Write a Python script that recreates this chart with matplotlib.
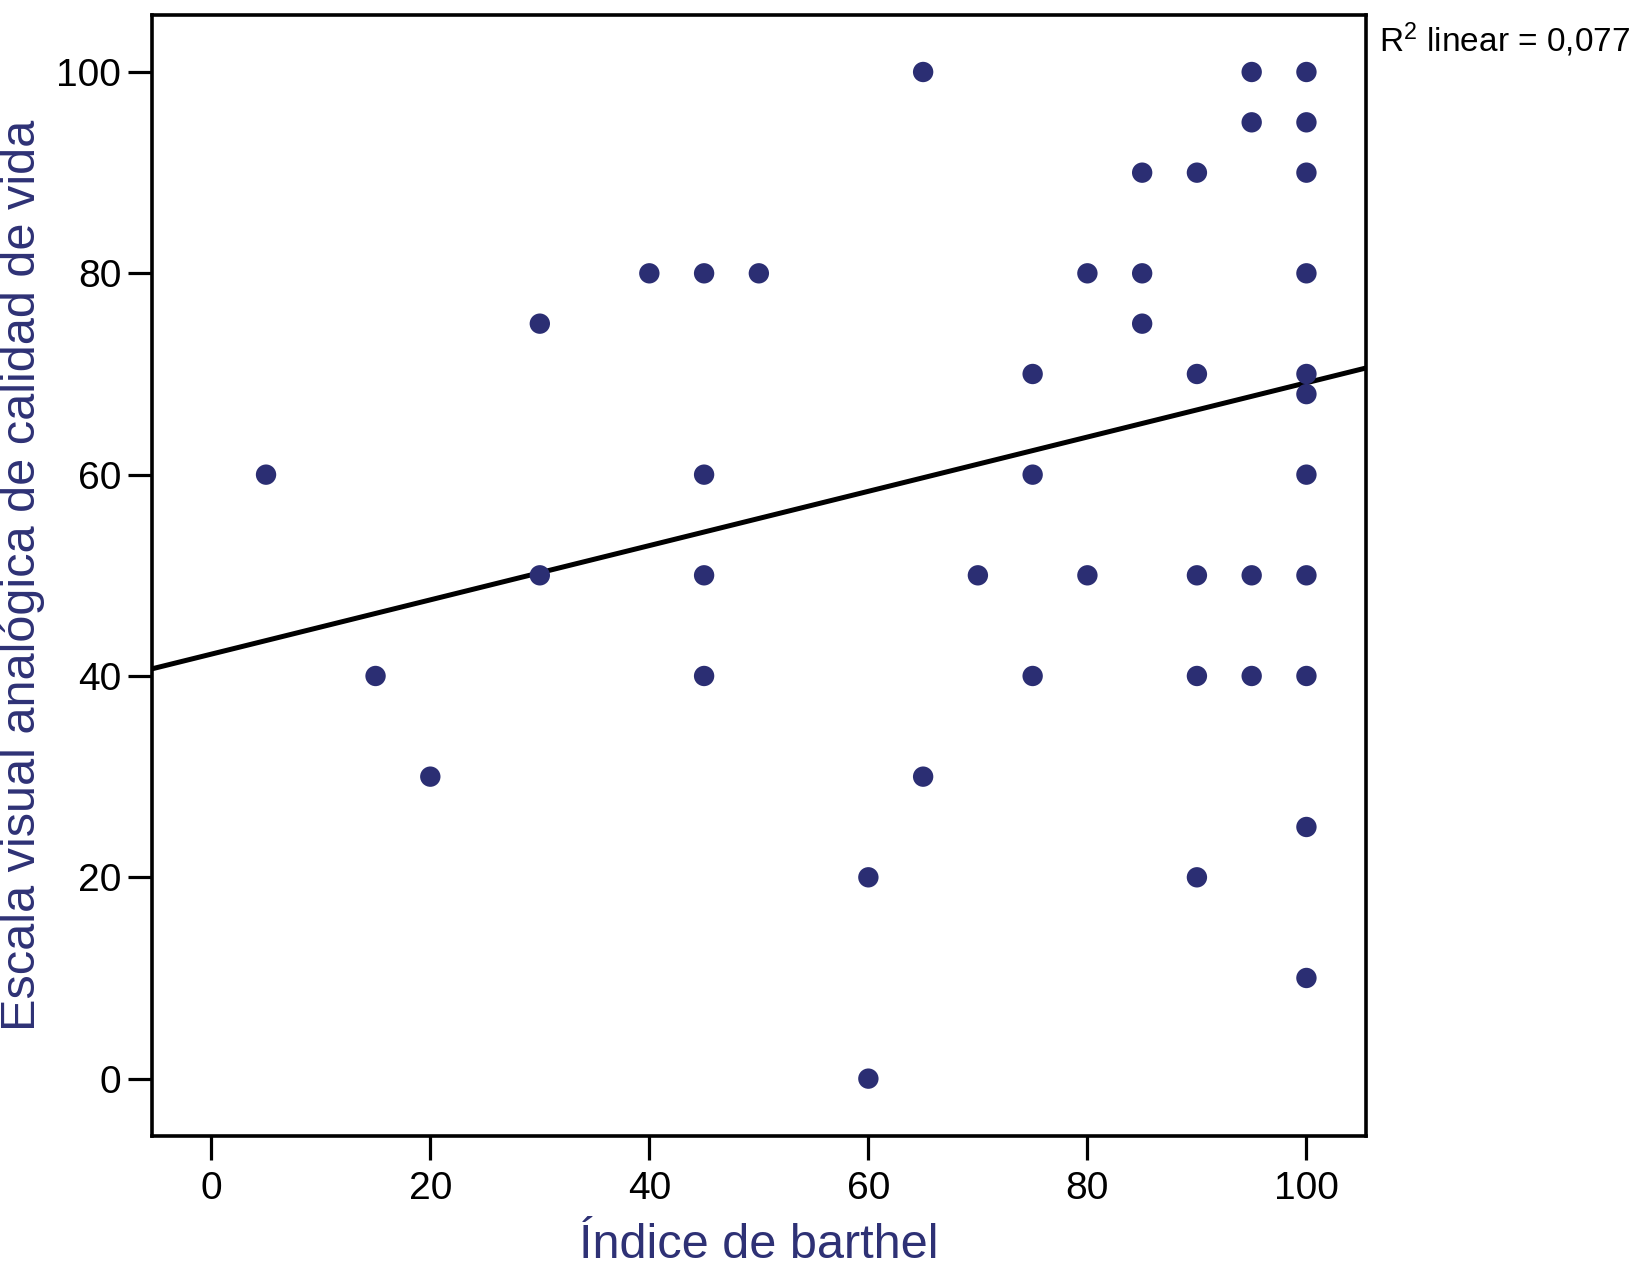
import matplotlib
matplotlib.use('Agg')
import matplotlib.pyplot as plt
import numpy as np

plt.rcParams['font.family'] = ['Liberation Sans', 'DejaVu Sans']
plt.rcParams['mathtext.fontset'] = 'custom'
plt.rcParams['mathtext.rm'] = 'Liberation Sans'
plt.rcParams['mathtext.it'] = 'Liberation Sans'

# Indice de Barthel vs escala visual analogica
barthel = [5, 15, 20, 30, 30, 40, 45, 45, 45, 45, 50, 60, 60, 65, 65, 70,
           75, 75, 75, 80, 80, 85, 85, 85, 90, 90, 90, 90, 90,
           95, 95, 95, 95, 100, 100, 100, 100, 100, 100, 100, 100, 100, 100, 100]
eva = [60, 40, 30, 75, 50, 80, 80, 60, 50, 40, 80, 20, 0, 100, 30, 50,
       70, 60, 40, 80, 50, 90, 80, 75, 90, 70, 50, 40, 20,
       100, 95, 50, 40, 100, 95, 90, 80, 70, 68, 60, 50, 40, 25, 10]

# linea de ajuste
fit_intercept = 42.17
fit_slope = 0.2696
r2_label = "R$^2$ linear = 0,077"

xticks = [0, 20, 40, 60, 80, 100]
yticks = [0, 20, 40, 60, 80, 100]

dot_color = '#2b2e73'
label_color = '#2e3175'

fig = plt.figure(figsize=(16.4, 12.71), dpi=100)
ax = fig.add_axes([0.0925, 0.1062, 0.7405, 0.8823])

ax.scatter(barthel, eva, s=215, color=dot_color, edgecolors='none', zorder=3)

xlim = (-5.44, 105.45)
xs = np.array(xlim)
ax.plot(xs, fit_intercept + fit_slope * xs, color='black', lw=3.6, zorder=2)

ax.set_xlim(*xlim)
ax.set_ylim(-5.7, 105.7)
ax.set_xticks(xticks)
ax.set_yticks(yticks)

for sp in ax.spines.values():
    sp.set_linewidth(2.6)
ax.tick_params(axis='both', length=17, width=2.3, labelsize=28)
ax.tick_params(axis='y', pad=5)
ax.tick_params(axis='x', pad=8)

ax.set_xlabel('Índice de barthel', fontsize=35, color=label_color, labelpad=12)
ax.set_ylabel('Escala visual analógica de calidad de vida', fontsize=35,
              color=label_color, labelpad=8)

fig.text(1379 / 1640, 1 - 52 / 1271, r2_label, fontsize=24, ha='left',
         va='baseline')

fig.savefig('out.png', dpi=100)
